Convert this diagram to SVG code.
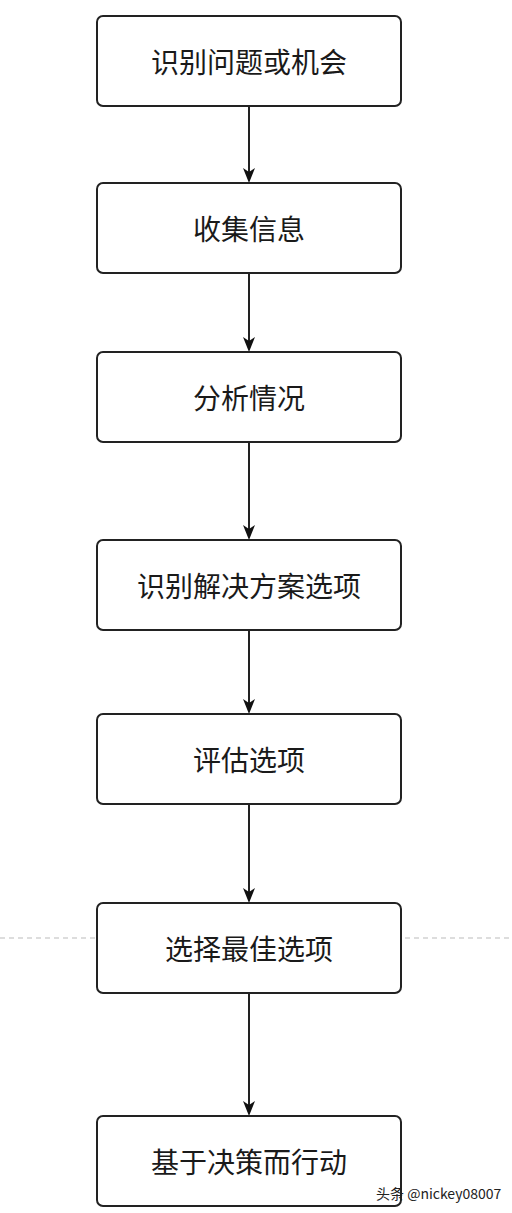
<svg xmlns="http://www.w3.org/2000/svg" width="512" height="1213" viewBox="0 0 512 1213">
<defs>
<style>
.box{fill:#fff;stroke:#222;stroke-width:2}
.lbl{font-family:"Noto Sans CJK SC","Liberation Sans",sans-serif;font-size:28px;fill:#1a1a1a;text-anchor:middle;dominant-baseline:central}
.ln{stroke:#222;stroke-width:2}
.hd{fill:#111}
.wm{font-family:"Noto Sans CJK SC","Liberation Sans",sans-serif;font-size:14px;fill:#222}
</style>
</defs>
<rect width="512" height="1213" fill="#fff"/>
<line x1="0" y1="938" x2="512" y2="938" stroke="#bbb" stroke-width="1" stroke-dasharray="5,4"/>
<g id="connectors">
<line class="ln" x1="249" y1="106" x2="249" y2="180"/>
<path class="hd" d="M243,168 L249,172 L255,168 L249,183 Z"/>
<line class="ln" x1="249" y1="273" x2="249" y2="349"/>
<path class="hd" d="M243,337 L249,341 L255,337 L249,352 Z"/>
<line class="ln" x1="249" y1="442" x2="249" y2="537"/>
<path class="hd" d="M243,525 L249,529 L255,525 L249,540 Z"/>
<line class="ln" x1="249" y1="630" x2="249" y2="711"/>
<path class="hd" d="M243,699 L249,703 L255,699 L249,714 Z"/>
<line class="ln" x1="249" y1="804" x2="249" y2="900"/>
<path class="hd" d="M243,888 L249,892 L255,888 L249,903 Z"/>
<line class="ln" x1="249" y1="993" x2="249" y2="1113"/>
<path class="hd" d="M243,1101 L249,1105 L255,1101 L249,1116 Z"/>
</g>
<g id="n1"><rect class="box" x="97" y="16" width="304" height="90" rx="6"/><text class="lbl" x="249" y="61">识别问题或机会</text></g>
<g id="n2"><rect class="box" x="97" y="183" width="304" height="90" rx="6"/><text class="lbl" x="249" y="228">收集信息</text></g>
<g id="n3"><rect class="box" x="97" y="352" width="304" height="90" rx="6"/><text class="lbl" x="249" y="397">分析情况</text></g>
<g id="n4"><rect class="box" x="97" y="540" width="304" height="90" rx="6"/><text class="lbl" x="249" y="585">识别解决方案选项</text></g>
<g id="n5"><rect class="box" x="97" y="714" width="304" height="90" rx="6"/><text class="lbl" x="249" y="759">评估选项</text></g>
<g id="n6"><rect class="box" x="97" y="903" width="304" height="90" rx="6"/><text class="lbl" x="249" y="948">选择最佳选项</text></g>
<g id="n7"><rect class="box" x="97" y="1116" width="304" height="90" rx="6"/><text class="lbl" x="249" y="1161">基于决策而行动</text></g>
<text class="wm" x="376" y="1199">头条 @nickey08007</text>
</svg>
